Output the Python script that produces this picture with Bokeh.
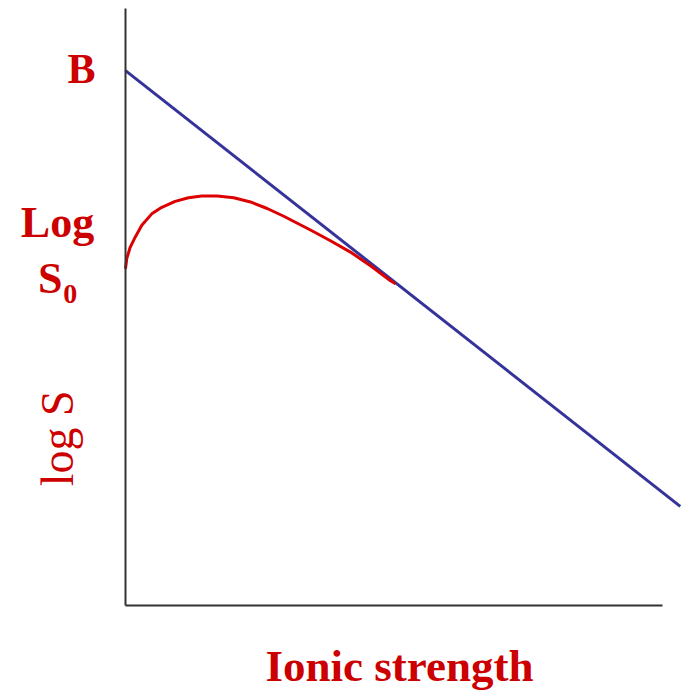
from bokeh.plotting import figure
from bokeh.models import Range1d, Label, LinearAxis
from bokeh.embed import file_html
from bokeh.resources import INLINE

# Data (arbitrary units)
blue_x = [0.0, 9.96]
blue_y = [8.96, 1.66]

red_x = [0.0, 0.023, 0.084, 0.174, 0.293, 0.472, 0.652, 0.892, 1.131, 1.370, 1.646,
         1.944, 2.244, 2.544, 2.842, 3.111, 3.321, 3.680, 4.039, 4.399, 4.758, 4.847]
red_y = [5.64, 5.81, 6.00, 6.17, 6.37, 6.56, 6.67, 6.77, 6.83, 6.86, 6.86,
         6.83, 6.76, 6.65, 6.52, 6.39, 6.29, 6.11, 5.92, 5.69, 5.44, 5.39]

x_axis_end = 9.64
y_axis_end = 10.0

RED = "#cc0000"
FONT = "Liberation Serif"

p = figure(width=690, height=691, output_backend="svg", toolbar_location=None,
           x_range=Range1d(-2.244, 10.144), y_range=Range1d(-1.4405, 10.134),
           x_axis_type=None, y_axis_type=None,
           min_border_left=0, min_border_right=0, min_border_top=0, min_border_bottom=0)
p.outline_line_color = None
p.xgrid.visible = False
p.ygrid.visible = False
p.background_fill_color = "white"
p.border_fill_color = "white"

for loc, bnds in (("left", (0, y_axis_end)), ("below", (0, x_axis_end))):
    ax = LinearAxis(bounds=bnds, fixed_location=0)
    ax.axis_line_color = "#333333"
    ax.axis_line_width = 2
    ax.major_tick_line_color = None
    ax.minor_tick_line_color = None
    ax.major_label_text_font_size = "0px"
    ax.major_label_text_color = None
    ax.major_label_standoff = 0
    p.add_layout(ax, loc)

p.line(blue_x, blue_y, line_color="#333399", line_width=3)
p.line(red_x, red_y, line_color="#dd0000", line_width=3, line_join="round")

def lab(x, y, text, size, style="bold", angle=0, baseline="alphabetic"):
    p.add_layout(Label(x=x, y=y, text=text, text_font=FONT, text_font_size=size,
                       text_font_style=style, text_color=RED, text_align="center",
                       text_baseline=baseline, angle=angle))

lab(-0.79, 8.99, "B", "42px")
lab(-1.22, 6.41, "Log", "44px")
lab(-1.35, 5.48, "S", "44px")
lab(-0.99, 5.21, "0", "28px")
lab(-1.22, 2.80, "log S", "46px", style="normal", angle=1.5708, baseline="middle")
lab(4.92, -1.02, "Ionic strength", "45px")

open("out.html", "w").write(file_html(p, INLINE))
